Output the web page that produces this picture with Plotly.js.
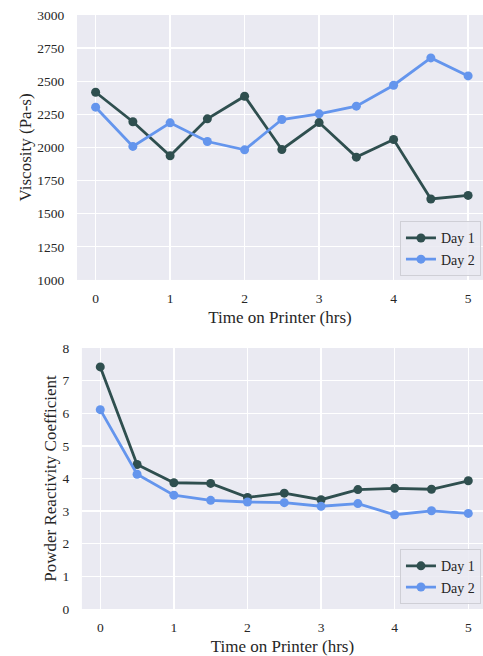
<!DOCTYPE html>
<html>
<head>
<meta charset="utf-8">
<script src="https://cdn.plot.ly/plotly-3.0.1.min.js"></script>
<style>
  html, body { margin: 0; padding: 0; background: #ffffff; overflow: hidden; }
  #chart { width: 483px; height: 656px; }
</style>
</head>
<body>
<div id="chart"></div>
<script>
// Sampling times (hours on printer)
const hours = [0, 0.5, 1, 1.5, 2, 2.5, 3, 3.5, 4, 4.5, 5];

// Viscosity (Pa-s)
const viscosityDay1 = [2417, 2194, 1937, 2216, 2387, 1985, 2188, 1927, 2060, 1611, 1638];
const viscosityDay2 = [2304, 2008, 2186, 2045, 1982, 2211, 2254, 2312, 2470, 2676, 2540];

// Powder reactivity coefficient
const reactivityDay1 = [7.42, 4.43, 3.87, 3.85, 3.42, 3.55, 3.35, 3.66, 3.70, 3.67, 3.93];
const reactivityDay2 = [6.11, 4.13, 3.49, 3.33, 3.28, 3.26, 3.15, 3.23, 2.89, 3.01, 2.93];

const seriesNames = ['Day 1', 'Day 2'];
const seriesColors = ['#2F4F4F', '#6495ED'];

const serif = 'Liberation Serif, Times New Roman, serif';
const textColor = '#262626';

function lineTrace(y, i, xa, ya, legendId) {
  return {
    x: hours, y: y, name: seriesNames[i],
    type: 'scatter', mode: 'lines+markers',
    xaxis: xa, yaxis: ya, legend: legendId,
    line: { color: seriesColors[i], width: 2.8 },
    marker: { color: seriesColors[i], size: 9 }
  };
}

const traces = [
  lineTrace(viscosityDay1, 0, 'x', 'y', 'legend'),
  lineTrace(viscosityDay2, 1, 'x', 'y', 'legend'),
  lineTrace(reactivityDay1, 0, 'x2', 'y2', 'legend2'),
  lineTrace(reactivityDay2, 1, 'x2', 'y2', 'legend2')
];

const axisCommon = {
  showline: false, zeroline: false,
  gridcolor: '#ffffff', gridwidth: 1.3,
  ticks: 'outside', tickcolor: 'rgba(0,0,0,0)',
  tickfont: { family: serif, size: 13.5, color: textColor }
};

const titleFont = { family: serif, size: 17, color: textColor };
const xTitle = { text: 'Time on Printer (hrs)', font: titleFont, standoff: 5 };

const legendCommon = {
  x: 0.995, xanchor: 'right', yanchor: 'bottom',
  bgcolor: 'rgba(234,234,242,0.85)', bordercolor: '#cfcfd6', borderwidth: 1,
  font: { family: serif, size: 14, color: textColor },
  tracegroupgap: 0, itemwidth: 30
};

const layout = {
  width: 483, height: 656,
  margin: { l: 77, r: 0, t: 15, b: 47 },
  paper_bgcolor: '#ffffff',
  plot_bgcolor: '#EAEAF2',
  showlegend: true,
  xaxis: Object.assign({}, axisCommon, {
    domain: [0, 1], anchor: 'y', range: [-0.25, 5.2], dtick: 1, tick0: 0, ticklen: 6,
    title: xTitle
  }),
  yaxis: Object.assign({}, axisCommon, {
    domain: [0.554, 1], anchor: 'x', range: [1000, 3000], dtick: 250, ticklen: 9,
    title: { text: 'Viscosity (Pa-s)', font: titleFont, standoff: 1 }
  }),
  xaxis2: Object.assign({}, axisCommon, {
    domain: [0.012, 1], anchor: 'y2', range: [-0.25, 5.2], dtick: 1, tick0: 0, ticklen: 6,
    title: xTitle
  }),
  yaxis2: Object.assign({}, axisCommon, {
    domain: [0, 0.4394], anchor: 'x2', range: [0, 8], dtick: 1, ticklen: 9,
    title: { text: 'Powder Reactivity Coefficient', font: titleFont, standoff: 1 }
  }),
  legend: Object.assign({}, legendCommon, { y: 0.56 }),
  legend2: Object.assign({}, legendCommon, { y: 0.008 })
};

Plotly.newPlot('chart', traces, layout, { displayModeBar: false, staticPlot: true });
</script>
</body>
</html>
